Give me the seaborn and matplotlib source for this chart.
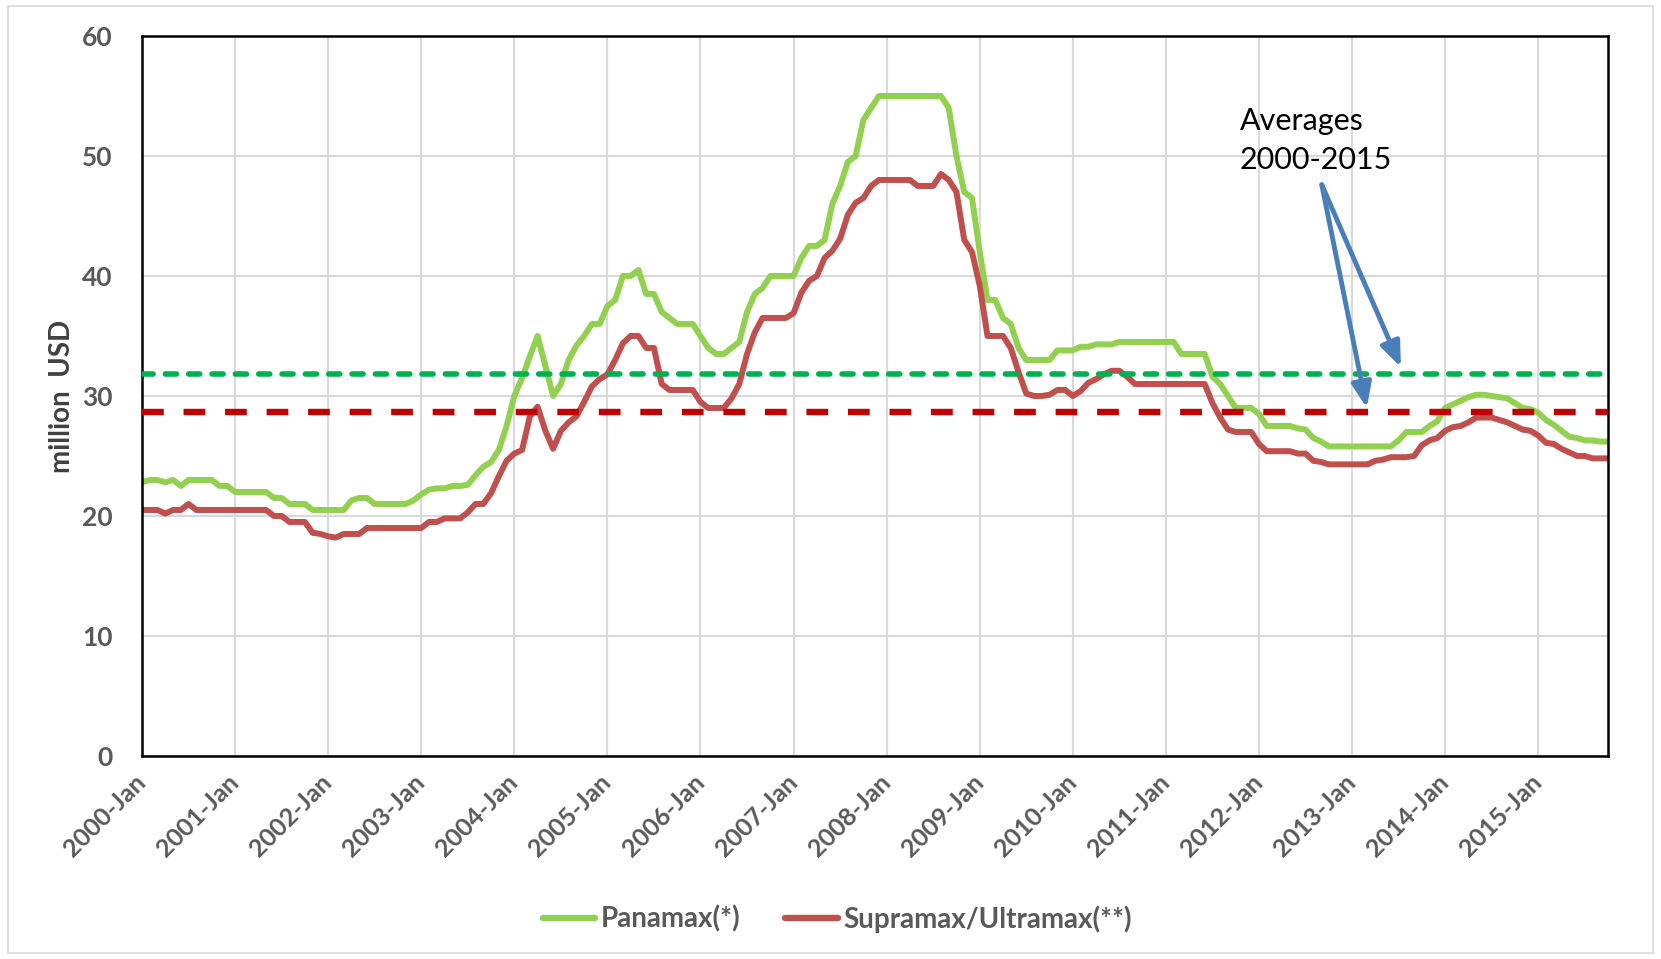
import matplotlib
matplotlib.use("Agg")
import matplotlib.pyplot as plt
import seaborn as sns
import pandas as pd
import numpy as np
from matplotlib.lines import Line2D
from matplotlib.patches import Rectangle, FancyArrowPatch

# ---------------- data (monthly, 2000-Jan .. 2015-Oct) ----------------
panamax = [
    22.8, 23.0, 23.0, 22.8, 23.0, 22.5, 23.0, 23.0, 23.0, 23.0, 22.5, 22.5,  # 2000
    22.0, 22.0, 22.0, 22.0, 22.0, 21.5, 21.5, 21.0, 21.0, 21.0, 20.5, 20.5,  # 2001
    20.5, 20.5, 20.5, 21.3, 21.5, 21.5, 21.0, 21.0, 21.0, 21.0, 21.0, 21.3,  # 2002
    21.8, 22.2, 22.3, 22.3, 22.5, 22.5, 22.6, 23.4, 24.1, 24.5, 25.5, 27.5,  # 2003
    30.0, 31.5, 33.3, 35.0, 32.5, 30.0, 31.0, 33.0, 34.2, 35.0, 36.0, 36.0,  # 2004
    37.5, 38.0, 40.0, 40.0, 40.5, 38.5, 38.5, 37.0, 36.5, 36.0, 36.0, 36.0,  # 2005
    35.0, 34.0, 33.5, 33.5, 34.0, 34.5, 37.0, 38.5, 39.0, 40.0, 40.0, 40.0,  # 2006
    40.0, 41.5, 42.5, 42.5, 43.0, 46.0, 47.5, 49.5, 50.0, 53.0, 54.0, 55.0,  # 2007
    55.0, 55.0, 55.0, 55.0, 55.0, 55.0, 55.0, 55.0, 54.0, 50.0, 47.0, 46.5,  # 2008
    42.0, 38.0, 38.0, 36.5, 36.0, 34.0, 33.0, 33.0, 33.0, 33.0, 33.8, 33.8,  # 2009
    33.8, 34.1, 34.1, 34.3, 34.3, 34.3, 34.5, 34.5, 34.5, 34.5, 34.5, 34.5,  # 2010
    34.5, 34.5, 33.5, 33.5, 33.5, 33.5, 31.6, 31.0, 30.0, 29.0, 29.0, 29.0,  # 2011
    28.5, 27.5, 27.5, 27.5, 27.5, 27.3, 27.2, 26.5, 26.2, 25.8, 25.8, 25.8,  # 2012
    25.8, 25.8, 25.8, 25.8, 25.8, 25.8, 26.3, 27.0, 27.0, 27.0, 27.5, 27.9,  # 2013
    29.0, 29.3, 29.6, 29.9, 30.1, 30.1, 30.0, 29.9, 29.8, 29.4, 29.0, 28.9,  # 2014
    28.6, 28.0, 27.6, 27.1, 26.6, 26.5, 26.3, 26.3, 26.2, 26.2,              # 2015
]
supramax = [
    20.5, 20.5, 20.5, 20.2, 20.5, 20.5, 21.0, 20.5, 20.5, 20.5, 20.5, 20.5,  # 2000
    20.5, 20.5, 20.5, 20.5, 20.5, 20.0, 20.0, 19.5, 19.5, 19.5, 18.6, 18.5,  # 2001
    18.3, 18.2, 18.5, 18.5, 18.5, 19.0, 19.0, 19.0, 19.0, 19.0, 19.0, 19.0,  # 2002
    19.0, 19.5, 19.5, 19.8, 19.8, 19.8, 20.3, 21.0, 21.0, 21.9, 23.3, 24.6,  # 2003
    25.2, 25.5, 28.3, 29.1, 27.1, 25.6, 27.1, 27.8, 28.3, 29.5, 30.8, 31.4,  # 2004
    31.8, 33.0, 34.4, 35.0, 35.0, 34.0, 34.0, 31.0, 30.5, 30.5, 30.5, 30.5,  # 2005
    29.5, 29.0, 29.0, 29.0, 29.8, 31.0, 33.5, 35.3, 36.5, 36.5, 36.5, 36.5,  # 2006
    36.9, 38.6, 39.6, 40.0, 41.5, 42.1, 43.1, 45.1, 46.1, 46.5, 47.5, 48.0,  # 2007
    48.0, 48.0, 48.0, 48.0, 47.5, 47.5, 47.5, 48.5, 48.0, 47.0, 43.0, 42.0,  # 2008
    39.2, 35.0, 35.0, 35.0, 34.0, 32.0, 30.2, 30.0, 30.0, 30.1, 30.5, 30.5,  # 2009
    30.0, 30.4, 31.1, 31.4, 31.8, 32.1, 32.1, 31.6, 31.0, 31.0, 31.0, 31.0,  # 2010
    31.0, 31.0, 31.0, 31.0, 31.0, 31.0, 29.4, 28.2, 27.2, 27.0, 27.0, 27.0,  # 2011
    26.0, 25.4, 25.4, 25.4, 25.4, 25.2, 25.2, 24.6, 24.5, 24.3, 24.3, 24.3,  # 2012
    24.3, 24.3, 24.3, 24.6, 24.7, 24.9, 24.9, 24.9, 25.0, 25.9, 26.3, 26.5,  # 2013
    27.1, 27.4, 27.5, 27.8, 28.2, 28.2, 28.2, 28.0, 27.8, 27.5, 27.2, 27.1,  # 2014
    26.7, 26.1, 26.0, 25.6, 25.3, 25.0, 25.0, 24.8, 24.8, 24.8,              # 2015
]
avg_panamax = 31.8
avg_supramax = 28.7
series_names = ["Panamax(*)", "Supramax/Ultramax(**)"]
tick_labels = ["2000-Jan", "2001-Jan", "2002-Jan", "2003-Jan", "2004-Jan", "2005-Jan",
               "2006-Jan", "2007-Jan", "2008-Jan", "2009-Jan", "2010-Jan", "2011-Jan",
               "2012-Jan", "2013-Jan", "2014-Jan", "2015-Jan"]
y_ticks = [0, 10, 20, 30, 40, 50, 60]
annot_text = "Averages\n2000-2015"

# ---------------- styling ----------------
sns.set_theme(style="white")
plt.rcParams["font.family"] = ["Lato", "DejaVu Sans"]

GREEN = "#92D050"
RED = "#C0504D"
AVG_GREEN = "#00B050"
AVG_RED = "#C00000"
GRID = "#D9D9D9"
TXT = "#595959"

n = len(panamax)
month_idx = np.arange(n)
df = pd.DataFrame({"month": month_idx, series_names[0]: panamax, series_names[1]: supramax})
long = df.melt(id_vars="month", var_name="series", value_name="value")

fig = plt.figure(figsize=(16.61, 9.59), dpi=100)
ax = fig.add_axes([0.0855, 0.2117, 0.8826, 0.7508])

sns.lineplot(data=long, x="month", y="value", hue="series",
             palette={series_names[0]: GREEN, series_names[1]: RED},
             linewidth=4.3, ax=ax, legend=False, zorder=2,
             solid_joinstyle="round", solid_capstyle="round")

ax.axhline(avg_panamax, color=AVG_GREEN, lw=4.0, dashes=(2.0, 2.2),
           dash_capstyle="round", zorder=3)
ax.axhline(avg_supramax, color=AVG_RED, lw=4.6, dashes=(3.4, 3.1),
           dash_capstyle="butt", zorder=3)

ax.set_xlim(0, n - 1)
ax.set_ylim(0, 60)
ax.set_xticks(np.arange(0, 12 * len(tick_labels), 12))
ax.set_xticklabels(tick_labels, rotation=45, ha="right", va="center",
                   rotation_mode="anchor", fontsize=18, fontweight="bold", color=TXT)
ax.set_yticks(y_ticks)
ax.set_yticklabels([str(v) for v in y_ticks], fontsize=19, fontweight="bold", color=TXT)
ax.tick_params(axis="x", length=0, pad=16)
ax.tick_params(axis="y", length=0, pad=21)

ax.grid(True, color=GRID, lw=1.5, zorder=0)
ax.set_axisbelow(True)
for s in ax.spines.values():
    s.set_visible(True)
    s.set_color("black")
    s.set_linewidth(1.8)

ax.set_xlabel("")
ax.set_ylabel("million  USD", fontsize=20, fontweight="bold", color="#404040")
ax.yaxis.set_label_coords(-0.046, 0.5)

# annotation
ax.text(141.5, 51.3, annot_text, fontsize=22, color="black", ha="left", va="center",
        linespacing=1.5)
tail = (152.1, 47.6)
for head in [(162.3, 32.4), (157.9, 29.0)]:
    arr = FancyArrowPatch(tail, head, arrowstyle="-|>,head_length=15,head_width=6",
                          color="#4A7EBB", lw=3.5, mutation_scale=1, zorder=4,
                          shrinkA=0, shrinkB=0)
    ax.add_patch(arr)

# legend
handles = [Line2D([0], [0], color=GREEN, lw=4.6, solid_capstyle="round"),
           Line2D([0], [0], color=RED, lw=4.6, solid_capstyle="round")]
leg = fig.legend(handles, series_names, loc="center", bbox_to_anchor=(0.504, 0.042),
                 ncol=2, frameon=False, handlelength=1.9, handletextpad=0.2,
                 columnspacing=1.6, prop={"family": ["Lato", "DejaVu Sans"],
                                          "weight": "bold", "size": 20})
for t in leg.get_texts():
    t.set_color(TXT)

# chart-area border
fig.patches.append(Rectangle((0.005, 0.006), 0.99, 0.988, transform=fig.transFigure,
                             fill=False, edgecolor=GRID, lw=1.2))

fig.savefig("out.png", dpi=100)
